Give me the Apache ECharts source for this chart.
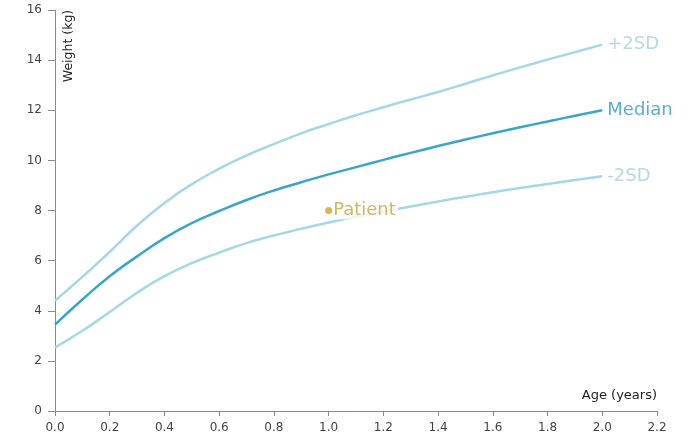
<!DOCTYPE html>
<html><head><meta charset="utf-8">
<script src="https://cdn.jsdelivr.net/npm/echarts@6/dist/echarts.min.js"></script>
<style>html,body{margin:0;padding:0;background:#fff}#c{width:697px;height:439px}</style>
</head><body><div id="c"></div>
<script>
const ages = [0, 0.1, 0.2, 0.3, 0.4, 0.5, 0.6, 0.7, 0.8, 0.9, 1.0, 1.1, 1.2, 1.3, 1.4, 1.5, 1.6, 1.7, 1.8, 1.9, 2.0];
const plus2SD = [4.4, 5.35, 6.35, 7.4, 8.3, 9.05, 9.67, 10.2, 10.65, 11.08, 11.45, 11.8, 12.12, 12.43, 12.73, 13.06, 13.39, 13.71, 14.02, 14.32, 14.62];
const median = [3.45, 4.45, 5.38, 6.17, 6.9, 7.5, 7.98, 8.42, 8.8, 9.13, 9.44, 9.73, 10.02, 10.3, 10.57, 10.83, 11.08, 11.32, 11.55, 11.78, 12.0];
const minus2SD = [2.53, 3.2, 3.95, 4.72, 5.38, 5.9, 6.32, 6.7, 7.0, 7.27, 7.52, 7.75, 7.96, 8.16, 8.36, 8.55, 8.73, 8.9, 9.06, 9.22, 9.37];
const patient = [[1.0, 8.0]];
const xTicks = [0, 0.2, 0.4, 0.6, 0.8, 1.0, 1.2, 1.4, 1.6, 1.8, 2.0, 2.2];
const yTicks = [0, 2, 4, 6, 8, 10, 12, 14, 16];

const pair = (vals) => ages.map((a, i) => [a, vals[i]]);
const font = '"DejaVu Sans", sans-serif';
const chart = echarts.init(document.getElementById('c'), null, {renderer: 'canvas'});
function lineSeries(name, vals, color, width, labelColor) {
  return {
    name: name, type: 'line', data: pair(vals), smooth: true, showSymbol: false,
    lineStyle: {color: color, width: width}, itemStyle: {color: color},
    endLabel: {show: true, formatter: name, color: labelColor, fontSize: 18, fontFamily: font, distance: 5},
    emphasis: {disabled: true}, silent: true, z: 2
  };
}
chart.setOption({
  animation: false,
  grid: {left: 55, top: 10, right: 40, bottom: 28, containLabel: false},
  xAxis: {
    type: 'value', min: xTicks[0], max: xTicks[xTicks.length - 1], interval: 0.2,
    axisLine: {show: true, lineStyle: {color: '#8a8a8a', width: 1}},
    axisTick: {show: true, length: 5, lineStyle: {color: '#8a8a8a'}},
    axisLabel: {color: '#444', fontSize: 12, fontFamily: font, margin: 11, formatter: v => v.toFixed(1)},
    splitLine: {show: false}
  },
  yAxis: {
    type: 'value', min: yTicks[0], max: yTicks[yTicks.length - 1], interval: 2,
    axisLine: {show: true, lineStyle: {color: '#8a8a8a', width: 1}},
    axisTick: {show: true, length: 7, lineStyle: {color: '#8a8a8a'}},
    axisLabel: {color: '#444', fontSize: 12, fontFamily: font, margin: 13},
    splitLine: {show: false}
  },
  series: [
    lineSeries('+2SD', plus2SD, '#a3d8e6', 2.5, '#b5dae6'),
    lineSeries('Median', median, '#38a6c6', 2.5, '#5aaed0'),
    lineSeries('-2SD', minus2SD, '#a3d8e6', 2.5, '#b5dae6'),
    {
      name: 'Patient', type: 'scatter', data: patient, symbolSize: 7,
      itemStyle: {color: '#d4a020'}, z: 5, silent: true,
      label: {show: true, position: 'right', distance: 1, formatter: 'Patient', color: '#c9a43a',
        fontSize: 18, fontFamily: font, backgroundColor: '#fff', padding: [0, 2, 0, 0]}
    }
  ],
  graphic: [
    {type: 'text', x: 69, y: 46, rotation: Math.PI / 2,
      style: {text: 'Weight (kg)', fill: '#222', font: '12.5px ' + font, align: 'center', verticalAlign: 'middle'}},
    {type: 'text', x: 657, y: 396,
      style: {text: 'Age (years)', fill: '#222', font: '13px ' + font, align: 'right', verticalAlign: 'middle'}}
  ]
});
</script></body></html>
